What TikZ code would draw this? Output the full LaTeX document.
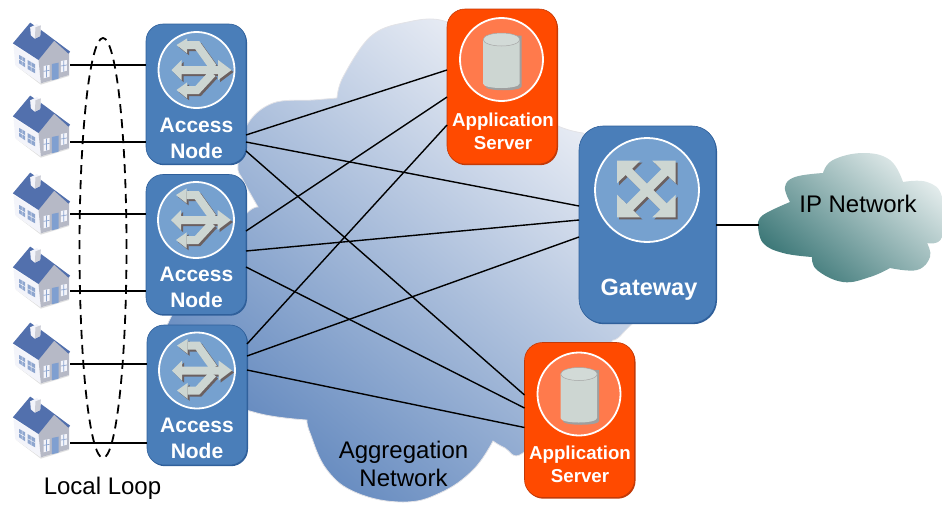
\documentclass[tikz,border=0pt]{standalone}
\usepackage{fontspec}
\setmainfont{Liberation Sans}
\usetikzlibrary{shapes.geometric,shadows}
\definecolor{nblue}{HTML}{4A7EB9}
\definecolor{nblueD}{HTML}{2F5F9A}
\definecolor{cblue}{HTML}{76A1CF}
\definecolor{nora}{HTML}{FF4A00}
\definecolor{noraD}{HTML}{C23A08}
\definecolor{cora}{HTML}{FF7A4C}
\definecolor{igrey}{HTML}{CDD6D2}
\definecolor{ishad}{HTML}{6B6060}
\definecolor{roof}{HTML}{5270AD}
\definecolor{wallw}{HTML}{F3F4FA}
\definecolor{wallg}{HTML}{B6B9C6}
\definecolor{doorb}{HTML}{7F9FD0}
\definecolor{winb}{HTML}{8EA6CF}
\definecolor{aggD}{HTML}{6288BE}
\definecolor{aggM}{HTML}{C2CFE5}
\definecolor{aggL}{HTML}{F4F5F9}
\definecolor{ipD}{HTML}{3A7676}
\definecolor{ipL}{HTML}{E2EBEB}
\tikzset{
  accessbox/.style={rounded corners=17pt,minimum width=100pt,minimum height=140pt,inner sep=0pt,outer sep=0pt,fill=nblue,draw=nblueD,line width=.6pt},
  gatewaybox/.style={accessbox,rounded corners=24pt,minimum width=137pt,minimum height=197pt},
  serverbox/.style={rounded corners=18pt,minimum width=110pt,minimum height=155pt,inner sep=0pt,outer sep=0pt,fill=nora,draw=noraD,line width=.6pt},
  boxlabel/.style={text=white,align=center,inner sep=0pt,font=\fontsize{21}{26.5}\selectfont\bfseries},
  srvlabel/.style={text=white,align=center,inner sep=0pt,font=\fontsize{18.7}{23}\selectfont\bfseries},
  plainlabel/.style={text=black,align=center,inner sep=0pt,font=\fontsize{24}{28}\selectfont},
  link/.style={draw=black,line width=1.4pt},
  homebox/.style={minimum width=57pt,minimum height=62pt,inner sep=0pt,outer sep=0pt},
  cottage/.pic={
    \begin{scope}[scale=1/3,shift={(-124,-159)}]
      \fill[black!12] (47,197)--(122,254)--(207,228)--(207,225)--(122,250)--cycle;
      \fill[wallw] (40,135)--(115,180)--(122,250)--(45,195)--cycle;
      \fill[wallg] (115,180)--(162,120)--(207,158)--(207,225)--(122,250)--cycle;
      \fill[roof] (90,68)--(38,130)--(115,180)--(162,122)--(205,161)--(210,155)--(120,88)--cycle;
      \fill[wallw] (90,82)--(110,72)--(122,80)--(120,108)--(104,116)--(92,106)--cycle;
      \fill[wallg!70!white] (106,82)--(122,76)--(120,108)--(104,116)--cycle;
      \fill[winb] (57,165)--(75,175)--(75,202)--(57,190)--cycle;
      \fill[winb] (82,180)--(105,193)--(105,220)--(82,207)--cycle;
      \fill[wallw] (130,198)--(148,195)--(148,230)--(130,235)--cycle;
      \fill[wallw] (182,183)--(200,180)--(200,212)--(182,217)--cycle;
      \fill[doorb] (155,192)--(175,188)--(175,236)--(155,241)--cycle;
      \draw[wallw,line width=.5pt] (66,170)--(66,196) (57,178)--(75,188) (93,186)--(93,214) (82,194)--(105,206);
      \draw[winb,line width=.7pt] (139,197)--(139,232) (130,214)--(148,211) (191,182)--(191,215) (182,198)--(200,195);
    \end{scope}
  },
  splitter/.pic={
    \begin{scope}[scale=1/3]
      \foreach \dx/\col in {6/ishad,0/igrey}{
        \begin{scope}[shift={(\dx,\dx)}]
          \draw[\col,line width=8pt,line join=miter] (-28,-75)--(2,-75)--(50,-8);
          \draw[\col,line width=8pt,line join=miter] (-28,60)--(2,60)--(48,10);
          \fill[\col] (-60,-75)--(-28,-95)--(-28,-50)--cycle;
          \fill[\col] (-60,60)--(-28,37)--(-28,85)--cycle;
          \fill[\col] (-75,0)--(-45,-30)--(-45,-12)--(65,-12)--(65,-30)--(105,0)--(65,30)--(65,12)--(-45,12)--(-45,30)--cycle;
        \end{scope}
      }
    \end{scope}
  },
  crossarrows/.pic={
    \begin{scope}[scale=1/3]
      \foreach \dx/\col in {6/ishad,0/igrey}{
        \begin{scope}[shift={(\dx,\dx)}]
          \draw[\col,line width=9pt] (-62,-62)--(62,62) (-62,62)--(62,-62);
          \fill[\col] (-90,-88)--(-20,-88)--(-90,-20)--cycle;
          \fill[\col] (86,-88)--(16,-88)--(86,-20)--cycle;
          \fill[\col] (-90,82)--(-20,82)--(-90,14)--cycle;
          \fill[\col] (86,82)--(16,82)--(86,14)--cycle;
        \end{scope}
      }
    \end{scope}
  },
  drum/.pic={
    \fill[gray!75] (-16,-24) -- (20,-24) -- (20,27) .. controls (20,32) and (-16,32) .. (-16,27) -- cycle;
    \fill[igrey] (-18.5,-20) -- (18,-20) -- (18,24) .. controls (18,30) and (-18.5,30) .. (-18.5,24) -- cycle;
    \filldraw[fill=igrey!90!white,draw=gray!70,line width=.5pt] (0,-20) ellipse (18.3 and 6.5);
  },
}
\begin{document}
\begin{tikzpicture}[x=1pt,y=-1pt]
\useasboundingbox (0,0) rectangle (942,504);
% clouds
\shade[draw=aggL!85!gray,line width=.8pt,bottom color=aggD,middle color=aggM,top color=aggL,shading angle=-40]
  plot[smooth,tension=.6] coordinates {(337,98) (343,77) (370,37) (403,23) (447,22) (500,60) (545,118) (583,133)}
  -- plot[smooth,tension=.6] coordinates {(583,133) (660,200) (655,290) (623,333) (613,340)}
  -- plot[smooth,tension=.6] coordinates {(613,340) (570,400) (523,453) (505,448) (493,441)}
  -- plot[smooth,tension=.7] coordinates {(493,441) (473,470) (440,493) (403,502) (357,493) (327,470) (310,433) (307,420)}
  -- plot[smooth,tension=.6] coordinates {(307,420) (257,413) (200,390) (170,340) (172,315) (215,250) (247,213) (258,207)}
  -- plot[smooth,tension=.6] coordinates {(258,207) (243,180) (238,165) (247,125) (273,103) (313,100) (337,98)}
  -- cycle;
\shade[bottom color=ipD,top color=ipL,shading angle=-40]
  plot[smooth,tension=.7] coordinates {(758,225) (763,215) (790,202)}
  -- plot[smooth,tension=.7] coordinates {(790,202) (785,187) (795,177) (823,173)}
  -- plot[smooth,tension=.7] coordinates {(823,173) (833,160) (863,153) (890,160) (903,182)}
  -- plot[smooth,tension=.7] coordinates {(903,182) (927,182) (942,197) (942,237) (927,243)}
  -- plot[smooth,tension=.7] coordinates {(927,243) (930,257) (917,270) (890,268)}
  -- plot[smooth,tension=.7] coordinates {(890,268) (870,277) (843,282) (817,270) (812,257)}
  -- plot[smooth,tension=.7] coordinates {(812,257) (783,253) (763,243) (758,225)}
  -- cycle;
% houses
\foreach \n/\yy in {1/53,2/126,3/203,4/277,5/353,6/427}{
  \node[homebox] (h\n) at (41.5,\yy) {};
  \pic at (h\n.center) {cottage};
}
% boxes
\node[accessbox,drop shadow={shadow xshift=1pt,shadow yshift=-1.2pt,fill=nblueD,opacity=1}] (an1) at (196,94) {};
\node[accessbox,drop shadow={shadow xshift=1pt,shadow yshift=-1.2pt,fill=nblueD,opacity=1}] (an2) at (196,244.5) {};
\node[accessbox,drop shadow={shadow xshift=1pt,shadow yshift=-1.2pt,fill=nblueD,opacity=1}] (an3) at (197,395) {};
\node[gatewaybox,drop shadow={shadow xshift=1pt,shadow yshift=-1.2pt,fill=nblueD,opacity=1}] (gw) at (647.5,224.5) {};
\node[serverbox,drop shadow={shadow xshift=1pt,shadow yshift=-1.2pt,fill=noraD,opacity=1}] (as1) at (502,86.5) {};
\node[serverbox,drop shadow={shadow xshift=1pt,shadow yshift=-1.2pt,fill=noraD,opacity=1}] (as2) at (579.5,420) {};
% dials and icons
\foreach \a/\cx/\cy in {an1/196.5/70,an2/196/220,an3/197/370.5}{
  \filldraw[fill=cblue,draw=white,line width=1.8pt] (\cx,\cy) circle (38);
  \pic at (\cx,\cy) {splitter};
}
\filldraw[fill=cblue,draw=white,line width=1.8pt] (647,190) circle (52);
\pic at (647,190) {crossarrows};
\foreach \cx/\cy in {501.5/59.5,579/394}{
  \filldraw[fill=cora,draw=white,line width=1.8pt] (\cx,\cy) circle (41.5);
  \pic at (\cx,\cy) {drum};
}
% labels
\node[boxlabel] (lan1) at (196.5,138.5) {Access\\Node};
\node[boxlabel] (lan2) at (196.5,287.5) {Access\\Node};
\node[boxlabel] (lan3) at (197,438.5) {Access\\Node};
\node[srvlabel] (las1) at (503,131) {Application\\Server};
\node[srvlabel] (las2) at (580,464.5) {Application\\Server};
\node[boxlabel,font=\fontsize{23.5}{28}\selectfont\bfseries] (lgw) at (649,290) {Gateway};
\node[plainlabel] (lip) at (858,204) {IP Network};
\node[plainlabel] (lagg) at (403.5,463.5) {Aggregation\\Network};
\node[plainlabel] (lloop) at (102.5,488) {Local Loop};
% local links
\draw[link] ([yshift=-12pt]h1.east) -- ([yshift=-12pt]h1.east -| an1.west);
\draw[link] ([yshift=-16pt]h2.east) -- ([yshift=-16pt]h2.east -| an1.west);
\draw[link] ([yshift=-11pt]h3.east) -- ([yshift=-11pt]h3.east -| an2.west);
\draw[link] ([yshift=-14pt]h4.east) -- ([yshift=-14pt]h4.east -| an2.west);
\draw[link] ([yshift=-11pt]h5.east) -- ([yshift=-11pt]h5.east -| an3.west);
\draw[link] ([yshift=-16pt]h6.east) -- ([yshift=-16pt]h6.east -| an3.west);
\node[draw=black,ellipse,line width=1.8pt,dash pattern=on 9pt off 6pt,minimum width=47pt,minimum height=420pt,inner sep=0pt] (loop) at (103,248) {};
% mesh
\draw[link] ([yshift=-41pt]an1.east) -- ([yshift=16.5pt]as1.west);
\draw[link] ([yshift=-48pt]an1.east) -- ([yshift=18.5pt]gw.west);
\draw[link] ([yshift=-57pt]an1.east) -- ([yshift=25pt]as2.west);
\draw[link] ([yshift=13.5pt]an2.east) -- ([yshift=-10.5pt]as1.west);
\draw[link] ([yshift=-6.5pt]an2.east) -- ([yshift=4.5pt]gw.west);
\draw[link] ([yshift=-22.5pt]an2.east) -- ([yshift=12pt]as2.west);
\draw[link] ([yshift=51pt]an3.east) -- ([yshift=-38.5pt]as1.west);
\draw[link] ([yshift=39pt]an3.east) -- ([yshift=-12.5pt]gw.west);
\draw[link] ([yshift=25pt]an3.east) -- ([yshift=-7.5pt]as2.west);
\coordinate (ipc) at (759,225);
\draw[link] (gw.east |- ipc) -- (ipc);
\end{tikzpicture}
\end{document}
